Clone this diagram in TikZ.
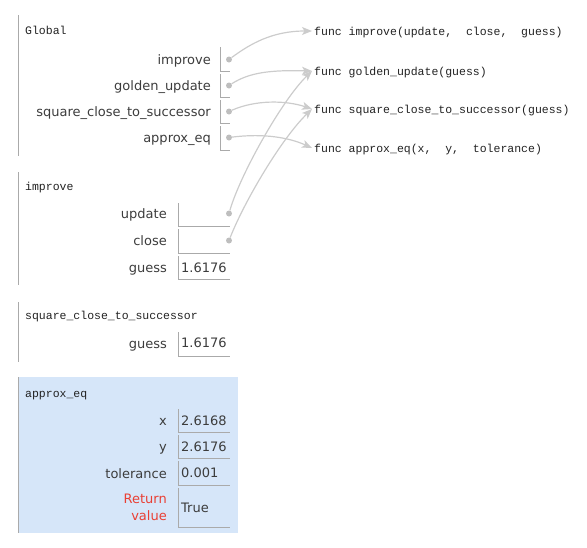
\documentclass[tikz,border=0pt]{standalone}
\usepackage{fontspec}
\setmainfont{DejaVu Sans}
\newfontfamily\monof{Liberation Mono}
\usetikzlibrary{arrows.meta}
\definecolor{lblc}{HTML}{3C3C3C}
\definecolor{valc}{HTML}{3C3C3C}
\definecolor{monoc}{HTML}{222222}
\definecolor{barc}{HTML}{AAAAAA}
\definecolor{cellc}{HTML}{AAAAAA}
\definecolor{arrc}{HTML}{CCCCCC}
\definecolor{dotc}{HTML}{BEBEBE}
\definecolor{hlc}{HTML}{D6E6F9}
\definecolor{retc}{HTML}{E93F34}
\begin{document}
\begin{tikzpicture}[x=1pt,y=-1pt,
  lbl/.style={anchor=base east,inner sep=0pt,text=lblc,font=\fontsize{13}{15}\selectfont},
  val/.style={anchor=base west,inner sep=0pt,text=valc,font=\fontsize{13}{15}\selectfont},
  retlbl/.style={lbl,text=retc},
  hdr/.style={anchor=base west,inner sep=0pt,text=monoc,font=\monof\fontsize{11.5}{13}\selectfont},
  fn/.style={anchor=base west,inner xsep=2pt,inner ysep=0pt,text height=8pt,text depth=0pt,text=monoc,font=\monof\fontsize{11.5}{13}\selectfont},
  bar/.style={draw=barc,line width=1pt},
  cell/.style={draw=cellc,line width=1pt},
  dotnode/.style={circle,fill=dotc,inner sep=0pt,minimum size=6pt},
  ptr/.style={draw=arrc,line width=1.2pt,-{Stealth[length=10pt,width=8pt,inset=2.5pt]}}
]
\useasboundingbox (0,0) rectangle (587,547);

% highlighted frame background
\fill[hlc] (18,377) rectangle (238,533);

% frame bars
\draw[bar] (18.5,15) -- (18.5,156);
\draw[bar] (18.5,172) -- (18.5,285);
\draw[bar] (18.5,302) -- (18.5,362);
\draw[bar] (18.5,377) -- (18.5,533);

% ---------- Global frame ----------
\node[hdr] (hglob) at (25,34.5) {Global};
\node[lbl] (lg1) at (211,64) {improve};
\node[lbl] (lg2) at (211,90) {golden\_update};
\node[lbl] (lg3) at (211,116) {square\_close\_to\_successor};
\node[lbl] (lg4) at (211,142.5) {approx\_eq};
\draw[cell] (220.5,47) |- (230,71);
\draw[cell] (220.5,74) |- (230,97);
\draw[cell] (220.5,100) |- (230,123);
\draw[cell] (220.5,126) |- (230,150);

% ---------- improve frame ----------
\node[hdr] (himp) at (25,190.5) {improve};
\node[lbl] (li1) at (167,218) {update};
\node[lbl] (li2) at (167,245) {close};
\node[lbl] (li3) at (167,272) {guess};
\draw[cell] (178.5,203) |- (230,226);
\draw[cell] (178.5,229) |- (230,253);
\draw[cell] (178.5,256) |- (230,279);
\node[val] (vi3) at (181,272) {1.6176};

% ---------- square_close_to_successor frame ----------
\node[hdr] (hsq) at (25,319) {square\_close\_to\_successor};
\node[lbl] (ls1) at (167,348) {guess};
\draw[cell] (178.5,332) |- (230,356);
\node[val] (vs1) at (181,347.5) {1.6176};

% ---------- approx_eq frame ----------
\node[hdr] (hap) at (25,397) {approx\_eq};
\node[lbl] (la1) at (167,425) {x};
\node[lbl] (la2) at (167,451) {y};
\node[lbl] (la3) at (167,478) {tolerance};
\node[retlbl] (la4a) at (167,503.5) {Return};
\node[retlbl] (la4b) at (167,520.5) {value};
\draw[cell] (178.5,409) |- (230,432);
\draw[cell] (178.5,435) |- (230,458);
\draw[cell] (178.5,461) |- (230,485);
\draw[cell] (178.5,488) |- (230,527);
\node[val] (va1) at (181,425) {2.6168};
\node[val] (va2) at (181,451) {2.6176};
\node[val] (va3) at (181,477.5) {0.001};
\node[val] (va4) at (181,512) {True};

% ---------- function objects ----------
\node[fn] (f1) at (312,35) {func improve(update,\ \ close,\ \ guess)};
\node[fn] (f2) at (312,75) {func golden\_update(guess)};
\node[fn] (f3) at (312,113) {func square\_close\_to\_successor(guess)};
\node[fn] (f4) at (312,152) {func approx\_eq(x,\ \ y,\ \ tolerance)};

% ---------- pointer dots ----------
\node[dotnode] (d1) at (229,59.5) {};
\node[dotnode] (d2) at (229,85.5) {};
\node[dotnode] (d3) at (229,111.5) {};
\node[dotnode] (d4) at (229,137.5) {};
\node[dotnode] (d5) at (229,213.5) {};
\node[dotnode] (d6) at (229,240.5) {};

% ---------- pointers ----------
\draw[ptr] (d1) .. controls (250,44) and (272,31) .. (f1.west);
\draw[ptr] (d2) .. controls (250,72) and (272,70) .. (f2.west);
\draw[ptr] (d3) .. controls (255,100) and (285,100) .. (f3.west);
\draw[ptr] (d4) .. controls (265,133) and (290,138) .. (f4.west);
\draw[ptr] (d5) .. controls (240,175) and (282,100) .. (f2.west);
\draw[ptr] (d6) .. controls (245,200) and (282,138) .. (f3.west);
\end{tikzpicture}
\end{document}
